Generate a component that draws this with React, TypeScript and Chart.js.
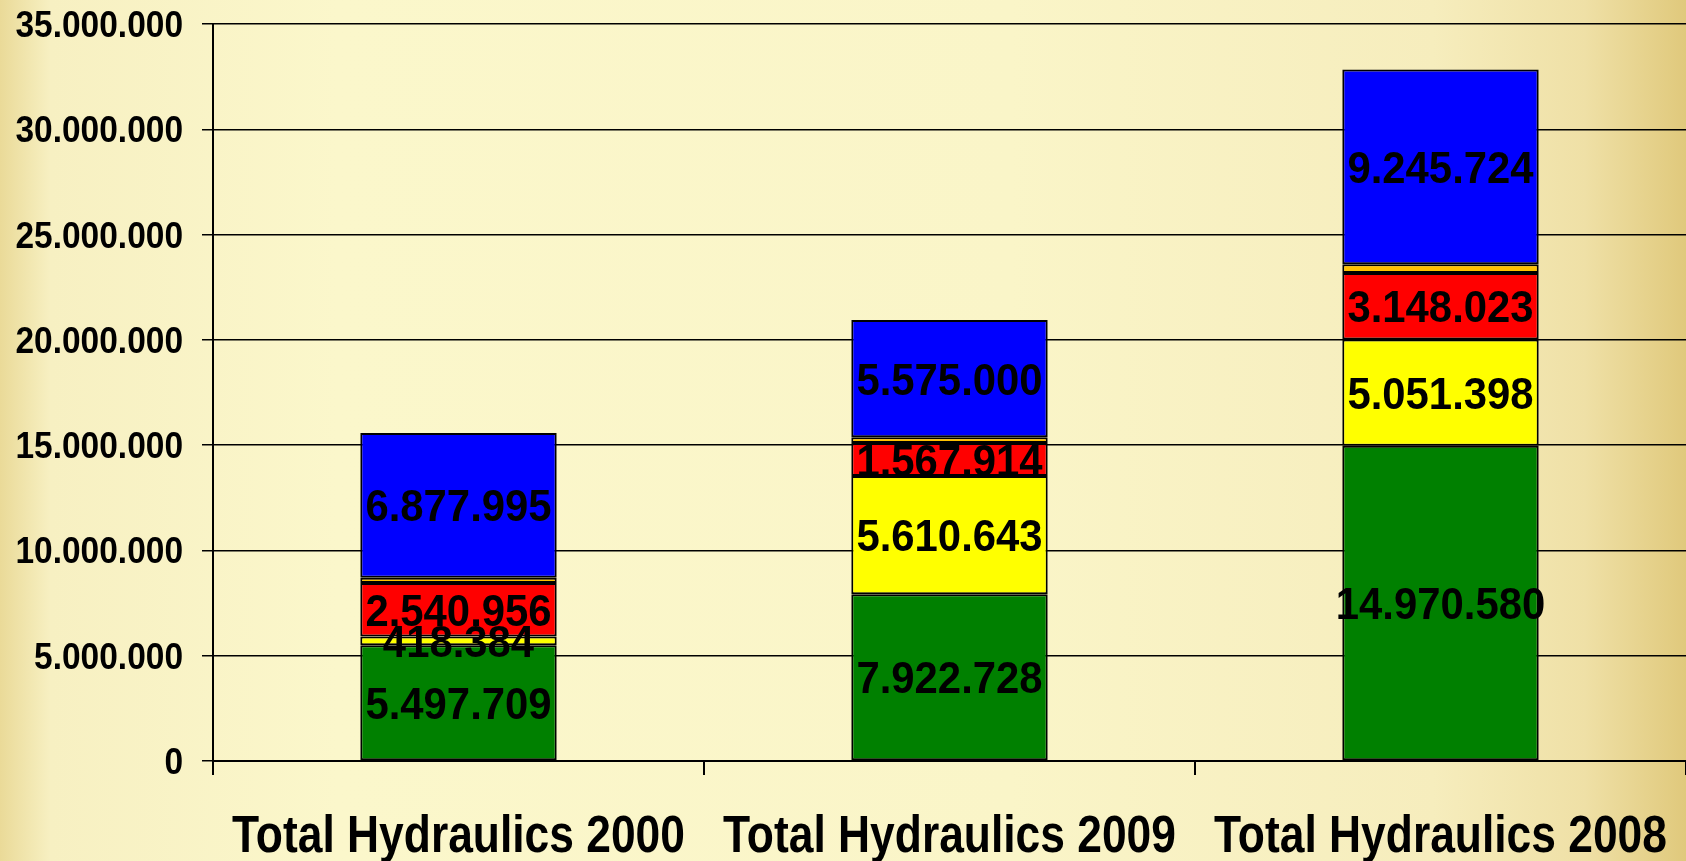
import React, { useEffect, useRef } from "react";
import { Chart, registerables } from "chart.js";

Chart.register(...registerables);

const categories = ["Total Hydraulics 2000", "Total Hydraulics 2009", "Total Hydraulics 2008"];
const greenValues = [5497709, 7922728, 14970580];
const yellowValues = [418384, 5610643, 5051398];
const redValues = [2540956, 1567914, 3148023];
const orangeValues = [240000, 270000, 420000];
const blueValues = [6877995, 5575000, 9245724];
const yMin = 0;
const yMax = 35000000;
const yStep = 5000000;

const FONT = "'Liberation Sans', Arial, sans-serif";

function fmt(v: number): string {
  return Math.round(v).toString().replace(/\B(?=(\d{3})+(?!\d))/g, ".");
}

function drawText(ctx: CanvasRenderingContext2D, text: string, x: number, y: number, size: number, sx: number, align: CanvasTextAlign) {
  ctx.save();
  ctx.translate(x, y);
  ctx.scale(sx, 1);
  ctx.font = `bold ${size}px ${FONT}`;
  ctx.textAlign = align;
  ctx.textBaseline = "alphabetic";
  ctx.fillStyle = "#000";
  ctx.fillText(text, 0, 0);
  ctx.restore();
}

const labelPlugin = {
  id: "segLabels",
  afterDraw(chart: any) {
    const ctx = chart.ctx;
    // segment labels
    chart.data.datasets.forEach((ds: any, i: number) => {
      if (ds.noLabel) return;
      const meta = chart.getDatasetMeta(i);
      meta.data.forEach((bar: any, j: number) => {
        const p = bar.getProps(["x", "y", "base"], true);
        drawText(ctx, fmt(ds.data[j]), p.x, (p.y + p.base) / 2 + 16, 45, 0.93, "center");
      });
    });
    // y tick labels
    const ys = chart.scales.y;
    ys.ticks.forEach((t: any) => {
      const py = ys.getPixelForValue(t.value);
      drawText(ctx, fmt(t.value), 183, py + 13, 36, 0.93, "right");
    });
    // x category labels
    const xs = chart.scales.x;
    chart.data.labels.forEach((lab: string, j: number) => {
      const px = xs.getPixelForValue(j);
      drawText(ctx, lab, px, 852, 51, 0.87, "center");
    });
  },
};

export default function App() {
  const ref = useRef<HTMLCanvasElement>(null);
  useEffect(() => {
    document.body.style.margin = "0";
    const mk = (label: string, data: number[], color: string, noLabel = false) => ({
      label,
      data,
      backgroundColor: color,
      borderColor: "#000",
      borderWidth: 2,
      borderSkipped: false,
      barPercentage: 0.4,
      categoryPercentage: 1,
      noLabel,
    });
    const chart = new Chart(ref.current!, {
      type: "bar",
      data: {
        labels: categories,
        datasets: [
          mk("green", greenValues, "#008000"),
          mk("yellow", yellowValues, "#FFFF00"),
          mk("red", redValues, "#FF0000"),
          mk("orange", orangeValues, "#FFC000", true),
          mk("blue", blueValues, "#0000FF"),
        ] as any,
      },
      options: {
        animation: false,
        responsive: false,
        maintainAspectRatio: false,
        layout: { padding: { top: 24, right: 0, left: 0, bottom: 0 } },
        plugins: { legend: { display: false }, tooltip: { enabled: false } },
        scales: {
          x: {
            stacked: true,
            grid: { display: true, drawOnChartArea: false, drawTicks: true, tickLength: 14, color: "#000", lineWidth: 2, offset: true },
            border: { color: "#000", width: 2 },
            ticks: { display: false },
            afterFit: (s: any) => { s.height = 100; s.paddingLeft = 0; s.paddingRight = 0; },
          },
          y: {
            stacked: true,
            min: yMin,
            max: yMax,
            grid: { color: "#000", lineWidth: 1.5, tickLength: 11, drawTicks: true },
            border: { color: "#000", width: 2 },
            ticks: { stepSize: yStep, display: false },
            afterFit: (s: any) => { s.width = 213; s.paddingTop = 0; s.paddingBottom = 0; },
          },
        },
      } as any,
      plugins: [labelPlugin],
    });
    return () => chart.destroy();
  }, []);
  return (
    <div
      style={{
        width: 1686,
        height: 861,
        background:
          "linear-gradient(90deg, #EADA98 0%, #F7F0C2 3%, #FBF7CB 20%, #FAF5C8 60%, #F6EDBD 85%, #EFE0A6 94%, #E0C97C 100%)",
      }}
    >
      <canvas ref={ref} width={1686} height={861} style={{ display: "block" }} />
    </div>
  );
}
